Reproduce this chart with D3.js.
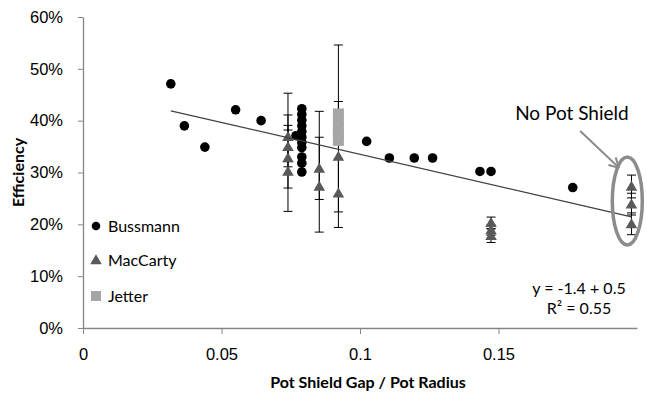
<!DOCTYPE html>
<html>
<head>
<meta charset="utf-8">
<script src="https://cdn.jsdelivr.net/npm/d3@7"></script>
<style>
  body { margin: 0; background: #fff; }
  svg { font-family: Lato, 'Open Sans', sans-serif; }
  .axis path, .axis line { stroke: #868686; }
  .axis text { fill: #000; font-size: 16.5px; }
</style>
</head>
<body>
<div id="chart"></div>
<script>
// x: pot shield gap / pot radius, y: efficiency
const xTicks = [0, 0.05, 0.1, 0.15];
const xTickLabels = ['0', '0.05', '0.1', '0.15'];
const yTicks = [0, 0.1, 0.2, 0.3, 0.4, 0.5, 0.6];

const bussX = [0.0317, 0.0366, 0.044, 0.0551, 0.0643, 0.0769,
  0.079, 0.079, 0.079, 0.079, 0.079, 0.079, 0.079, 0.079, 0.079, 0.079, 0.079,
  0.1024, 0.1106, 0.1196, 0.1262, 0.1433, 0.1473, 0.1768];
const bussY = [0.471, 0.390, 0.349, 0.421, 0.400, 0.371,
  0.423, 0.412, 0.401, 0.390, 0.379, 0.368, 0.358, 0.348, 0.330, 0.318, 0.301,
  0.360, 0.328, 0.328, 0.328, 0.302, 0.302, 0.271];

const macX = [0.074, 0.074, 0.074, 0.074, 0.0853, 0.0853, 0.0922, 0.0922,
  0.1473, 0.1473, 0.1473, 0.198, 0.198, 0.198];
const macY = [0.369, 0.350, 0.328, 0.302, 0.308, 0.273, 0.331, 0.260,
  0.203, 0.189, 0.178, 0.273, 0.239, 0.201];
const macLo = [0.321, 0.311, 0.270, 0.225, 0.248, 0.185, 0.224, 0.194,
  0.192, 0.179, 0.165, 0.251, 0.218, 0.180];
const macHi = [0.453, 0.411, 0.391, 0.382, 0.368, 0.418, 0.437, 0.326,
  0.214, 0.199, 0.191, 0.295, 0.260, 0.222];

const jetX = [0.0922, 0.0922, 0.0922, 0.0922, 0.0922];
const jetY = [0.413, 0.400, 0.387, 0.375, 0.362];
const jetLo = [0.400, null, null, null, null];
const jetHi = [0.546, null, null, null, null];

// linear trendline
const trendA = 0.458;
const trendB = -1.23;

const W = 647, H = 393;
const plot = {left: 83, right: 637, top: 17, bottom: 328};

const svg = d3.select('#chart').append('svg')
  .attr('width', W)
  .attr('height', H);

const x = d3.scaleLinear().domain([0, 0.2]).range([plot.left, plot.right]);
const y = d3.scaleLinear().domain([0, 0.6]).range([plot.bottom, plot.top]);

svg.append('defs').append('clipPath').attr('id', 'plotclip')
  .append('rect')
  .attr('x', plot.left).attr('y', plot.top)
  .attr('width', plot.right - plot.left).attr('height', plot.bottom - plot.top);

// axes
svg.append('g')
  .attr('class', 'axis')
  .attr('transform', 'translate(' + plot.left + ',0)')
  .call(d3.axisLeft(y).tickValues(yTicks).tickFormat(d3.format('.0%')).tickSizeInner(5).tickSizeOuter(0).tickPadding(15))
  .call(g => g.select('.domain').attr('stroke-width', 1.3));

svg.append('g')
  .attr('class', 'axis')
  .attr('transform', 'translate(0,' + plot.bottom + ')')
  .call(d3.axisBottom(x).tickValues(xTicks).tickFormat((d, i) => xTickLabels[i]).tickSizeInner(6).tickSizeOuter(0).tickPadding(14))
  .call(g => g.select('.domain').attr('stroke-width', 1.3));

// axis titles
svg.append('text')
  .attr('x', (plot.left + plot.right) / 2 + 8)
  .attr('y', 388)
  .attr('text-anchor', 'middle')
  .style('font-size', '16px')
  .style('font-weight', 'bold')
  .text('Pot Shield Gap / Pot Radius');

svg.append('text')
  .attr('transform', 'translate(24,' + ((plot.top + plot.bottom) / 2) + ') rotate(-90)')
  .attr('text-anchor', 'middle')
  .style('font-size', '16px')
  .style('font-weight', 'bold')
  .text('Efficiency');

const plotG = svg.append('g');

// error bars (clipped to plot area like the original)
function errorBars(xs, ys, lo, hi) {
  const g = plotG.append('g').attr('clip-path', 'url(#plotclip)');
  xs.forEach((xv, i) => {
    if (lo[i] == null) return;
    const cx = x(xv);
    g.append('line')
      .attr('x1', cx).attr('x2', cx)
      .attr('y1', y(lo[i])).attr('y2', y(hi[i]))
      .attr('stroke', '#000').attr('stroke-width', 1);
    [lo[i], hi[i]].forEach(v => {
      g.append('line')
        .attr('x1', cx - 4.5).attr('x2', cx + 4.5)
        .attr('y1', y(v)).attr('y2', y(v))
        .attr('stroke', '#000').attr('stroke-width', 1);
    });
  });
}

// Bussmann
plotG.selectAll('.buss')
  .data(bussX.map((d, i) => ({x: d, y: bussY[i]})))
  .enter()
  .append('circle')
  .attr('class', 'buss')
  .attr('cx', d => x(d.x))
  .attr('cy', d => y(d.y))
  .attr('r', 4.8)
  .style('fill', '#000');

// MacCarty
errorBars(macX, macY, macLo, macHi);
const tri = d3.symbol().type(d3.symbolTriangle).size(58);
plotG.selectAll('.mac')
  .data(macX.map((d, i) => ({x: d, y: macY[i]})))
  .enter()
  .append('path')
  .attr('class', 'mac')
  .attr('d', tri)
  .attr('transform', d => 'translate(' + x(d.x) + ',' + (y(d.y) + 1) + ')')
  .style('fill', '#595959');

// Jetter
errorBars(jetX, jetY, jetLo, jetHi);
plotG.selectAll('.jet')
  .data(jetX.map((d, i) => ({x: d, y: jetY[i]})))
  .enter()
  .append('rect')
  .attr('class', 'jet')
  .attr('x', d => x(d.x) - 5.5)
  .attr('y', d => y(d.y) - 5.5)
  .attr('width', 11)
  .attr('height', 11)
  .style('fill', '#a6a6a6');

// trendline over the full x range of the data
const allX = bussX.concat(macX, jetX);
const tx0 = d3.min(allX), tx1 = d3.max(allX);
plotG.append('line')
  .attr('x1', x(tx0)).attr('y1', y(trendA + trendB * tx0))
  .attr('x2', x(tx1)).attr('y2', y(trendA + trendB * tx1))
  .attr('stroke', '#404040')
  .attr('stroke-width', 1.2);

// trendline label
const eq = svg.append('text')
  .attr('text-anchor', 'middle')
  .style('font-size', '16px');
eq.append('tspan').attr('x', 579).attr('y', 294).text('y = -1.4 + 0.5');
eq.append('tspan').attr('x', 579).attr('y', 314).text('R² = 0.55');

// legend
const legend = svg.append('g').attr('transform', 'translate(96,226)');
const legendItems = ['Bussmann', 'MacCarty', 'Jetter'];
legendItems.forEach((name, i) => {
  const g = legend.append('g').attr('transform', 'translate(0,' + [0, 34, 70][i] + ')');
  if (i === 0) g.append('circle').attr('r', 4.3).style('fill', '#000');
  if (i === 1) g.append('path').attr('d', tri).attr('transform', 'translate(0,1)').style('fill', '#595959');
  if (i === 2) g.append('rect').attr('x', -5).attr('y', -5).attr('width', 10).attr('height', 10).style('fill', '#a6a6a6');
  g.append('text')
    .attr('x', 12)
    .attr('dy', '0.35em')
    .style('font-size', '16px')
    .text(name);
});

// "No Pot Shield" annotation
const ex = x(0.1965), ey = y(0.245);
svg.append('ellipse')
  .attr('cx', ex).attr('cy', ey)
  .attr('rx', 15).attr('ry', 44)
  .attr('fill', 'none')
  .attr('stroke', '#8c8c8c')
  .attr('stroke-width', 3.5);

const a0 = [x(0.1795), y(0.38)], a1 = [x(0.1935), y(0.309)];
const ang = Math.atan2(a1[1] - a0[1], a1[0] - a0[0]);
svg.append('line')
  .attr('x1', a0[0]).attr('y1', a0[1])
  .attr('x2', a1[0]).attr('y2', a1[1])
  .attr('stroke', '#8c8c8c').attr('stroke-width', 2);
[-0.5, 0.5].forEach(da => {
  svg.append('line')
    .attr('x1', a1[0]).attr('y1', a1[1])
    .attr('x2', a1[0] - 11 * Math.cos(ang + da)).attr('y2', a1[1] - 11 * Math.sin(ang + da))
    .attr('stroke', '#8c8c8c').attr('stroke-width', 2);
});

svg.append('text')
  .attr('x', x(0.1765))
  .attr('y', 120)
  .attr('text-anchor', 'middle')
  .style('font-size', '19px')
  .text('No Pot Shield');
</script>
</body>
</html>
